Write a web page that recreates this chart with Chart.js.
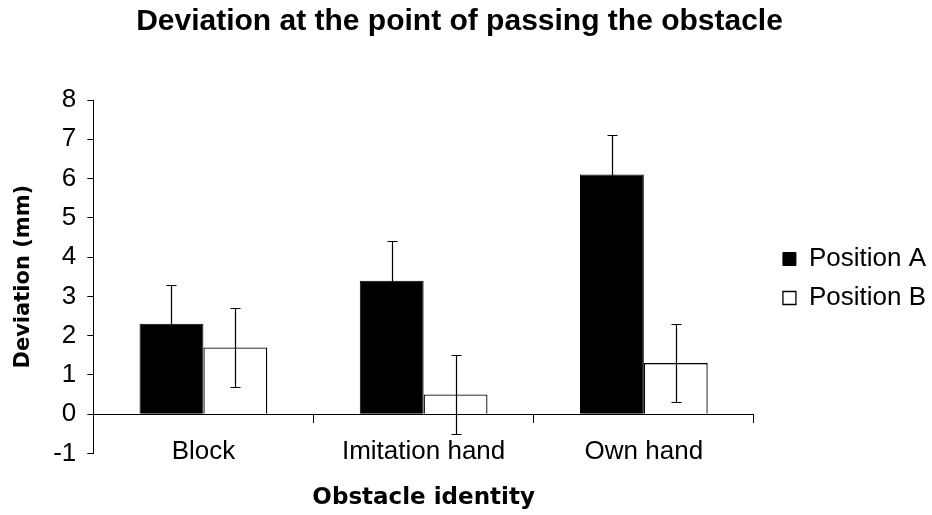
<!DOCTYPE html>
<html>
<head>
<meta charset="utf-8">
<title>Deviation at the point of passing the obstacle</title>
<script src="https://cdn.jsdelivr.net/npm/chart.js@4"></script>
<style>
  html, body { margin: 0; padding: 0; background: #fff; }
  #wrap { width: 932px; height: 515px; position: relative; }
</style>
</head>
<body>
<div id="wrap"><canvas id="chart"></canvas></div>
<script>
// Data
const categories = ['Block', 'Imitation hand', 'Own hand'];
const positionA = [2.3, 3.4, 6.1];
const positionB = [1.7, 0.5, 1.3];
const errorA = [1.0, 1.0, 1.0];
const errorB = [1.0, 1.0, 1.0];

const sans = "'Liberation Sans', Arial, sans-serif";
const boldSans = "'DejaVu Sans', Verdana, sans-serif";

// --- error bars drawn on top of the bars ---
const errorBars = {
    id: 'errorBars',
    afterDatasetsDraw(chart) {
        const ctx = chart.ctx;
        const yScale = chart.scales.y;
        chart.data.datasets.forEach((ds, i) => {
            const meta = chart.getDatasetMeta(i);
            meta.data.forEach((bar, j) => {
                const v = ds.data[j];
                const e = ds.errors[j];
                const x = Math.round(bar.x) + 0.5;
                const top = Math.round(yScale.getPixelForValue(v + e)) + 0.5;
                const bot = Math.round(yScale.getPixelForValue(v - e)) + 0.5;
                ctx.save();
                ctx.strokeStyle = '#000';
                ctx.lineWidth = 1.2;
                ctx.beginPath();
                ctx.moveTo(x, top); ctx.lineTo(x, bot);
                ctx.moveTo(x - 5, top); ctx.lineTo(x + 5, top);
                ctx.moveTo(x - 5, bot); ctx.lineTo(x + 5, bot);
                ctx.stroke();
                ctx.restore();
            });
        });
    }
};

new Chart(document.getElementById('chart'), {
    type: 'bar',
    data: {
        labels: categories,
        datasets: [{
            label: 'Position A',
            data: positionA,
            errors: errorA,
            backgroundColor: '#000',
            borderColor: '#000',
            borderWidth: 1,
            categoryPercentage: 0.58,
            barPercentage: 1.0
        }, {
            label: 'Position B',
            data: positionB,
            errors: errorB,
            backgroundColor: '#fff',
            borderColor: '#000',
            borderWidth: 1.3,
            categoryPercentage: 0.58,
            barPercentage: 1.0
        }]
    },
    options: {
        responsive: true,
        maintainAspectRatio: false,
        animation: false,
        layout: { padding: { top: 0, left: -17, right: -4, bottom: 0 } },
        plugins: {
            tooltip: { enabled: false },
            title: {
                display: true,
                text: 'Deviation at the point of passing the obstacle',
                color: '#000',
                font: { family: sans, size: 30, weight: 'bold' },
                padding: { top: 4, bottom: 60 }
            },
            legend: {
                position: 'right',
                maxWidth: 300,
                title: {
                    display: true,
                    text: ' ',
                    font: { size: 10 },
                    padding: { top: 30, bottom: 0 }
                },
                labels: {
                    color: '#000',
                    font: { family: sans, size: 26 },
                    boxWidth: 13,
                    boxHeight: 13,
                    padding: 13
                }
            }
        },
        scales: {
            // category axis sits on the zero line, takes no room of its own
            x: {
                position: { y: 0 },
                afterFit: (scale) => { scale.height = 0; },
                grid: {
                    offset: true,
                    drawOnChartArea: false,
                    drawTicks: true,
                    tickLength: 8,
                    color: '#000'
                },
                border: { display: true, color: '#000', width: 1 },
                ticks: {
                    color: '#000',
                    font: { family: sans, size: 26 },
                    padding: 14
                }
            },
            // bottom box holding only the axis title
            xTitle: {
                type: 'category',
                axis: 'x',
                position: 'bottom',
                display: true,
                grid: { display: false, drawTicks: false },
                border: { display: false },
                ticks: { display: false },
                title: {
                    display: true,
                    text: 'Obstacle identity',
                    color: '#000',
                    font: { family: boldSans, size: 23, weight: 'bold' },
                    padding: { top: 31, bottom: 3 }
                }
            },
            y: {
                min: -1,
                max: 8,
                ticks: {
                    stepSize: 1,
                    color: '#000',
                    font: { family: sans, size: 26 },
                    padding: 11
                },
                grid: {
                    drawOnChartArea: false,
                    drawTicks: true,
                    tickLength: 6,
                    color: '#000'
                },
                border: { display: true, color: '#000', width: 1 },
                title: {
                    display: true,
                    text: 'Deviation (mm)',
                    color: '#000',
                    font: { family: boldSans, size: 21, weight: 'bold' },
                    padding: { top: 28, bottom: 6 }
                }
            },
            // spacer between plot and legend
            gap: {
                type: 'linear',
                axis: 'y',
                position: 'right',
                display: true,
                grid: { display: false, drawTicks: false },
                border: { display: false },
                ticks: { display: false },
                afterFit: (scale) => { scale.width = 16; }
            }
        }
    },
    plugins: [errorBars]
});
</script>
</body>
</html>
